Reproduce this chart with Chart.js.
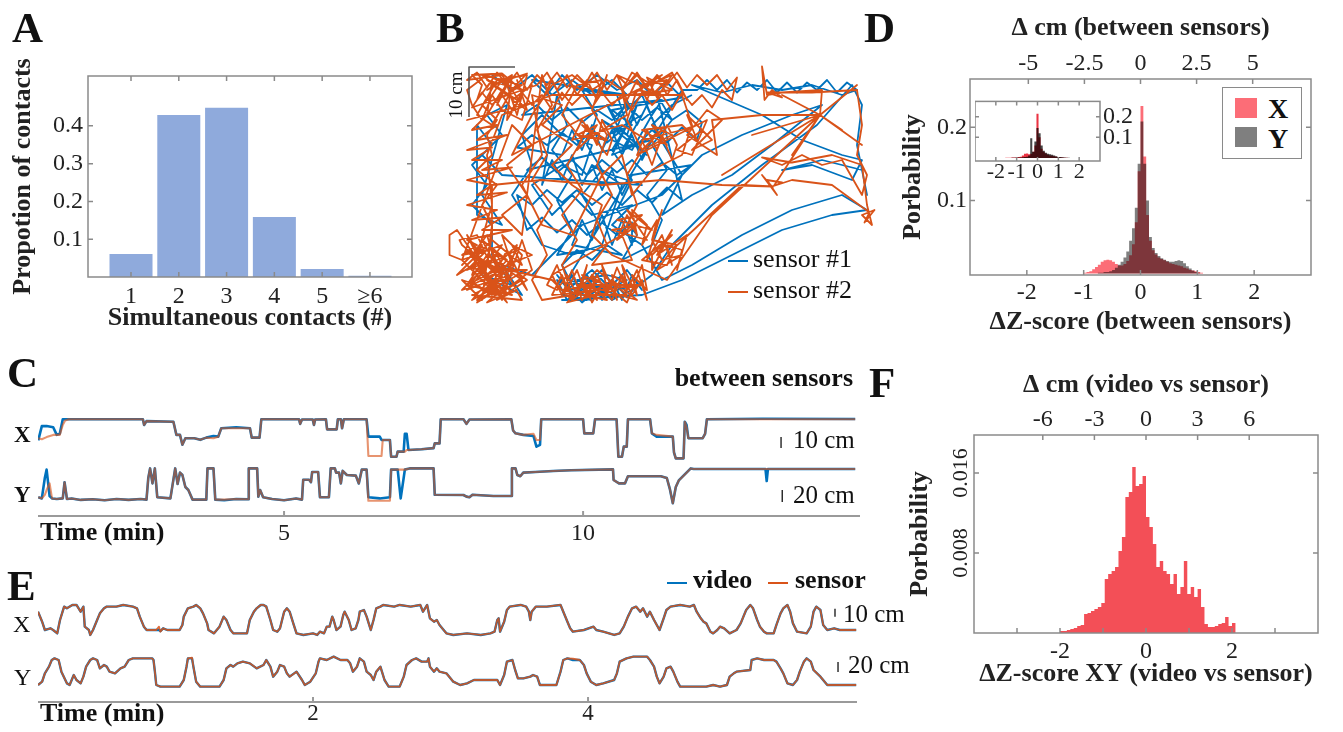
<!DOCTYPE html>
<html>
<head>
<meta charset="utf-8">
<script src="https://cdn.jsdelivr.net/npm/chart.js@4.4.1/dist/chart.umd.min.js"></script>
<style>
  html, body { margin: 0; padding: 0; background: #fff; }
  body { position: relative; width: 1343px; height: 732px; overflow: hidden;
         font-family: 'Liberation Serif', 'Times New Roman', serif; color: #111; }
  canvas { position: absolute; }
  .t { position: absolute; line-height: 1; white-space: nowrap; }
  .b { font-weight: bold; }
  .dash { position: absolute; height: 2px; }
  .box { position: absolute; box-sizing: border-box; }
</style>
</head>
<body>
<canvas id="histA" width="425" height="340" style="left:0;top:0"></canvas>
<canvas id="pathB" width="450" height="265" style="left:440px;top:50px"></canvas>
<canvas id="traceC" width="870" height="160" style="left:0;top:395px"></canvas>
<canvas id="traceE" width="870" height="147" style="left:0;top:585px"></canvas>
<canvas id="histD" width="453" height="340" style="left:890px;top:0"></canvas>
<canvas id="insetD" width="165" height="102" style="left:975px;top:84px"></canvas>
<canvas id="histF" width="453" height="392" style="left:890px;top:340px"></canvas>

<script>
// ---------- data ----------

// A: simultaneous contacts
const contactCounts = [1, 2, 3, 4, 5, 6];
const contactShare = [0.061, 0.429, 0.448, 0.159, 0.021, 0.003];
const shareTicks = [0.1, 0.2, 0.3, 0.4];

// B: trajectories in cm [x, y]
const sensor2Path = [
  [2,8],[6,4],[1,11],[9,6],[4,2],[11,9],[3,5],[8,12],[0,9],[7,2],[12,5],[5,10],[1,4],[10,2],[4,13],[9,9],[2,1],[13,7],[6,7],[0,12],[-0.5,13],[3,14],[8,3],[11,12],[5,6],
  [1,14],[3,11],[0,8],[4,12],[2,6],[5,9],[1,3],[6,5],[3,0.5],[7,3],[4,7],[9,2],[6,11],[10,8],[8,14],[12,10],[11,6],[13,3],[9,11],[7,7],[5,14],[2,10],[8,1],[12,13],[14,7],[10,4],[6,2],[3,4],[0,5],[4,1],
  [6,16],[4,20],[7,24],[3,27],[6,30],[5,34],[7,37],[4,40],[6,42],
  [8,45],[5,43],[10,46],[7,41],[12,44],[4,46],[9,42],[13,46.3],[6,44],[11,41],[5,45],[12,43],[8,46.3],
  [2,46],[4,44],[3,41],[6,45],[5,38],[8,43],[7,40],[10,46],[9,37],[12,42],[11,45],[13,39],[10,41],[14,44],[12,37],[8,39],[6,42],[4,37],[2,40],[1,43],[5,46],[9,44],[11,38],[13,46],[7,45],[3,38],[6,36],[10,43],[12,40],[8,46],
  [1,45],[3,46.5],[5,43.5],[7,46.5],[9,44],[11,46.5],[13,43],[15,46],[17,44],[19,46.5],[21,43.5],[23,46],[25,44],[27,46.5],
  [29,43],[31,46],[33,44],[35,46.5],[37,43.5],[39,46],[41,44],[43,46.5],[45,43.5],[47,46],[49,44],[51,46],[53,43],[55,45.5],
  [54,41],[52,43],[50,39.5],[48,42],[46,40],[44,42.5],[42,39],[40,42],[38,40],[36,42.5],[34,39],[32,42],[30,40],[28,42.5],
  [26,39.5],[24,42],[22,40],[20,42.5],[18,39],[16,42],[14,40],[12,42.5],[10,39],[8,42],[6,40],[4,42.5],[2,39.5],
  [15,44],[17,46.5],[19,43],[21,46],[23,42],[25,45],[27,41],[29,46],[28,43],[26,46.5],[24,43],[22,44],[20,41],[18,45],[16,41],
  [1,37],[5,38],[2,35],[7,36],[3,33],[9,34],[1,31],[6,31.5],[2,29],[8,29],[4,27],[10,27.5],[1,25],[6,24],[3,22],[9,22.5],
  [1,20],[7,19],[2,17],[8,17.5],[4,15],[10,15],[1,13],
  [3,12],[0,10],[5,11],[1,7],[6,9],[2,4],[8,7],[3,1],[9,4],[5,0.5],[11,3],[7,1],[13,5],[9,8],[14,10],[10,12],[12,8],[6,13],
  [-1,6],[4,9],[8,5],[2,2],[12,1],[7,10],[0,3],[10,6],[5,2],[11,11],[3,7],[9,0.5],[-1,15],[-2.5,14],[-2.5,10],[0,9],
  [10,36],[14,32],[9,28],[13,22],[8,18],[12,14],
  [16,46],[18,40],[15,35],[17,30],[14,25],[18,20],[15,15],[17,10],[14,5],[16,1],
  [22,2],[20,8],[23,13],[20,18],[24,23],[21,28],[24,33],[20,38],[23,44],
  [28,45],[26,39],[29,34],[27,28],[30,22],[27,17],[29,12],[26,8],
  [34,9],[32,14],[35,20],[33,26],[36,31],[33,37],[35,43],
  [10,30],[14,38],[18,44],[22,46],[26,43],[29,45],[32,43],
  [35,46],[38,42],[41,45],[36,44],[40,46],[34,42],[42,43],[37,45.5],[39,41.5],[42,46],[35,43],[40,42],
  [31,46],[33,41],[35,45],[37,41],[39,46],[41,42],[43,45],[45,41],[42,46.5],[38,44],[34,46.5],[32,43],
  [33,38],[28,35],[25,33],[27,36],[23,34],[29,33],[24,36],[26,34],
  [23,31],[25,36],[27,32],[28,37],[30,33],[29,30],[26,34],[24,37],[22,33],
  [32,36],[37,33],[40,35],[36,31],[42,34],[38,36],[41,32],[36,35],[44,36],[47,33],[45,38],[48,35],[43,31],[46,30],[49,37],
  [35,30],[37,35],[39,31],[41,36],[43,32],[42,29],[40,34],[38,28],[36,33],[44,35],
  [47,36],[50,33],[46,31],[52,37],[49,39],[45,34],[51,30],
  [50,37],[60,38],[71.6,38],
  [79,44],[71.6,38],[64,42],[71.6,38],[80,32],[71.6,38],[52,26],[71.6,38],[66,30],[71.6,38],[58,34],[71.6,38],[76,35],[71.6,38],
  [72,43],[64,42.5],[61,42],[60,47.7],[60.5,41],[62,43],[64,41.5],[61,42.5],
  [70,42.5],[79,43],[80,36],[79,30],[81,26],[80,22],
  [76,29],[72,28],[68,30],[64,28],[60,29.5],[66,28.5],[74,30],[80,28],
  [81,20],[82,16],[80,18],[82.5,19],[80.5,16.5],[81.5,18.5],
  [74,24],[66,25],[62,23.7],[60,26],[63,22],[61,25],[64,24.5],[62,23.7],[52,24],[40,25],[28,24],[16,25],[6,24],
  [6,14],[5,8],
  [18,5],[22,1],[26,4],[20,3],[29,1],[24,6],[31,3],[21,0.5],[27,7],[33,2],[25,2],[30,5],[35,1],[28,3],[23,4],[36,4],
  [18,2],[20,6],[22,1],[24,5],[26,0.5],[28,4],[30,1],[32,6],[34,2],[36,5],[37,1],[35,7],[33,3],[31,7.5],[29,2],[27,6],
  [25,1.5],[23,7],[21,3],[19,8],[17,4],
  [19,3],[21,6],[23,2],[25,8],[24,4],[27,1],[26,6],[29,3],[28,8],[31,1],[30,6],[33,4],[32,8],[35,2],[34,6],[37,3],[36,8],
  [33,0.5],[30,3],[27,5],[24,1],[22,7],[20,2],[18,6],
  [32,14],[36,18],[31,17],[38,15],[33,19],[37,13],[30,15],[35,16],
  [31,13],[33,18],[35,14],[34,19],[37,16],[36,12],[39,17],[38,13],[40,19],[37,9],[40,14],[42,8],[41,12],[44,11],[43,7],
  [45,14],[39,10],[42,15],[38,7],
  [38,10],[42,14],[36,9],[41,8],[43,12],[38,13],[40,9],[44,10],[39,7],[42,11],
  [56,24],[62.3,23.7],[71.6,38],[50,18],[41,5],
  [30,10],[26,14],[28,20],[22,24],[18,28],[22,32],[16,36],[20,40],[14,42],[16,30],[12,24],[16,16],[22,14],[28,26],[32,30],
  [34,22],[38,27],[44,30],[46,36],[44,42],
  [18,42],[8,38],[5,30],[6,20],[3,10],[7,6]
];
const sensor1Path = [
  [6,46],[10,43],[14,46],[18,42],[22,45],[26,42],[30,45],[33,42],
  [14,45],[17,42],[20,46],[23,43],[27,46],[31,43],[35,45],[38,42],[41,44.5],[44,41.5],
  [30,39],[34,36],[29,34],[36,38],[32,31],[37,33],[30,30],[35,40],[33,34],[28,37],[37,30],[31,36],
  [29,40],[31,37],[33,41],[35,36],[37,40],[39,35],[36,42],[32,38],[30,33],[34,31],[38,38],[40,41],
  [12,38],[15,40],[18,37],[21,39.5],[24,36.5],[27,39],[30,37],[33,40],[36,37],[39,39.5],[42,37],[45,39],[48,36.5],
  [47,33],[44,35.5],[41,32.5],[38,35],[35,32],[32,35],[29,32.5],[26,35],[23,32],[20,34.5],[17,32],[14,34],[11,31.5],
  [20,30],[22,35],[24,31],[26,36],[28,31],[30,35],[32,30],[34,34],[36,29],[38,33],
  [13,27],[16,29.5],[19,26.5],[22,29],[25,26],[28,29],[31,26.5],[34,29],[37,26],[40,28.5],[43,26],[46,28],
  [34,26],[32,22],[30,27],[28,23],[26,28],[24,24],[22,30],[20,25],[18,29],[16,24],
  [19,42],[21,36],[18,31],[22,26],[19,21],[22,15],[19,10],
  [25,11],[27,17],[24,22],[28,27],[25,32],[27,38],[24,43],
  [31,42],[33,36],[30,31],[34,25],[31,19],[35,14],[32,9],
  [38,12],[40,17],[37,22],[41,27],[38,32],[42,37],[39,42],
  [44,21],[41,23.5],[38,20.5],[35,23],[32,20],[29,22.5],[26,20],[23,23],[20,20.5],[17,23],[14,20],[11,22],
  [13,15],[16,17.5],[19,14.5],[22,17],[25,14],[28,16.5],[31,14],[34,16.5],
  [34,12],[32,17],[30,12],[28,18],[26,13],[24,17],[22,12],
  [32,10],[29,12],[26,9],[23,11],[20,8],[22,4],[25,6],[27,2],[30,5],[33,1.5],[35,4],[31,3],[28,7],[24,3],[21,1],[19,5],[26,1],
  [20,2],[22,6],[24,2],[26,6],[28,1],[30,5],[32,1],[34,6],[36,3],[33,7],[29,3],[25,4],[21,5],
  [44,43],[47,43],[49,45],[51,43],[53,45],[55,42.5],[57,44.5],[59,43],[61,45],[63,42.5],[65,44.5],[67,42.5],[69,44.5],
  [71,43],[73,45],[75,42.5],[77,44.5],[79,43],
  [76,42],[70,44],[64,43],[58,44],[52,42.5],[46,44],
  [60,38],[68,33],[76,30],[80,29],[78,25],[70,28],[64,27],[72,29],[80,27],[81,22],[79,32],[80,40],[78,44],
  [71,36],[60,28],[50,20],[42,12],[38,6],
  [34,3],[30,1],[26,5],[22,2],[19,6],[24,0.5],[28,4],[21,3],[26,7],[31,2],[23,5],[29,6],[33,5],[25,1],[20,1],
  [36,2],[44,5],[54,10],[64,15],[74,18],[81,19],[76,22],[66,19],[56,14],[46,8],[40,5],
  [36,12],[30,16],[34,20],[26,18],[22,22],[18,18],[14,24],[20,28],[24,26],[26,32],[20,34],[16,38],[12,34],[14,28],[10,22],
  [16,12],[22,10],[28,12],[32,24],[26,28],[30,26],[36,24],
  [8,26],[4,30],[8,34],[5,38],[9,40],[4,22],[8,16],[3,18],[3,36],[6,32],[2,28],[5,24],[2,20],[6,16],
  [6,10],[10,4],[4,6],[12,2],[8,8],[14,6],
  [24,16],[40,22],[48,30],[56,34],[66,38],[72,40],[62,32],[54,26],[46,22],[40,18],[44,26],[38,36],[42,40],[46,42]
];
const bScaleBar = [[1.4, 37.6], [1.4, 47.6], [10.6, 47.6]];

// C: between sensors, rows [time (min), sensor #1, sensor #2] in cm
const cX = [
  [0.89,16,18],[0.95,29,17],[1.03,29,19],[1.14,28,21],[1.2,21,21],[1.25,22,21],[1.3,35.2,30],[1.34,35.2,34],[1.4,35.2,35.2],
  [2.64,35.2,35.2],[2.66,30,30],[2.7,33.5,33.5],[3.15,33,33],[3.2,21,21],[3.26,21,21],[3.3,12,12],[3.35,17.9,17.9],
  [3.5,18,18],[3.6,16.5,16.5],[3.7,18.5,18.5],[3.82,20,18],[3.9,19.4,19.4],[3.95,27,27],[4.2,28,27],[4.43,27,27],
  [4.46,18.5,18.5],[4.59,18.5,18.5],[4.62,35.2,35.2],[5.25,35.2,35.2],[5.27,31,31],[5.3,35,35],[5.48,35,35],[5.5,30,30],
  [5.52,35,35],[5.7,35.2,35.2],[5.72,26,26],[5.88,26,26],[5.9,35.2,35.2],[5.95,35.2,35.2],[5.97,27,27],[6.0,35.2,35.2],
  [6.38,35.2,35.2],[6.41,19.4,1.8],[6.6,19.4,1.8],[6.63,16.4,1.8],[6.65,16.4,16.4],[6.77,16.4,16.4],[6.79,1.2,1.2],
  [6.88,1.2,1.2],[6.9,5.8,5.8],[7.0,5.8,5.8],[7.02,22,5.8],[7.05,22,7.3],[7.08,7.3,7.3],[7.3,8,8],[7.5,9,9],
  [7.52,13.3,13.3],[7.6,13.3,13.3],[7.62,35.2,35.2],[8.0,35.2,35.2],[8.05,31,31],[8.1,35,35],[8.8,35.2,35.2],
  [8.83,25,25],[8.87,22.4,22.4],[9.0,21,21],[9.17,20,22],[9.22,10.3,16.4],[9.28,12,16.4],[9.3,35.2,35.2],
  [10.0,35.2,35.2],[10.02,22.4,22.4],[10.17,22.4,22.4],[10.2,35.2,35.2],[10.56,35.2,35.2],[10.59,1.2,1.2],
  [10.65,1.2,1.2],[10.68,10.3,10.3],[10.73,10.3,10.3],[10.75,35.2,35.2],[11.12,35.2,35.2],[11.15,22.4,22.4],
  [11.23,19.4,21],[11.5,19.4,19.4],[11.52,5,5],[11.55,-0.3,-0.3],[11.68,-0.3,-0.3],[11.7,33,33],[11.73,30,28],
  [11.76,18,18],[12.0,18,18],[12.04,22,22],[12.07,35.2,35.2],[13.0,35.6,35.2],[14.55,35.4,35.2]
];
const cY = [
  [0.89,8,8],[0.95,6,6],[1.0,40,12],[1.03,54,20],[1.08,10,31],[1.12,6,6],[1.2,5,5],[1.3,6,6],[1.33,33,33],[1.37,5,5],
  [1.45,6,6],[1.6,3.5,3.5],[1.8,4.5,4.5],[2.0,3,3],[2.2,5,5],[2.4,3.5,3.5],[2.6,5,5],[2.7,4,4],[2.73,40,40],[2.76,56,56],
  [2.8,31,31],[2.84,56,56],[2.88,8,8],[3.1,6,6],[3.18,56,56],[3.22,30,30],[3.26,49,49],[3.3,45,45],[3.35,25,25],[3.4,20,20],
  [3.47,4,4],[3.7,4,4],[3.72,56,56],[3.82,56,56],[3.85,4,4],[4.0,3,4],[4.2,5,5],[4.4,4.5,4.5],[4.41,56,56],[4.55,56,56],
  [4.57,9,9],[4.6,20,20],[4.65,8,8],[4.8,5,5],[5.0,3,3],[5.2,6,6],[5.3,4,4],[5.32,37,37],[5.42,37,37],[5.45,33,33],
  [5.47,50,50],[5.57,50,50],[5.6,8,8],[5.75,8,8],[5.78,56,56],[5.85,56,56],[5.87,49,49],[5.92,49,49],[5.95,31,31],
  [5.98,52,52],[6.05,45,45],[6.2,44,44],[6.25,31,31],[6.3,54,54],[6.38,54,54],[6.41,8,2],[6.6,6,2],[6.77,8,2],
  [6.79,54,54],[6.9,54,54],[6.95,6,54],[7.0,40,54],[7.02,54,54],[7.1,56,56],[7.5,56,56],[7.52,12,12],[8.0,11.7,11.7],
  [8.05,9,9],[8.1,8,8],[8.15,12,12],[8.5,10,10],[8.8,10,10],[8.81,56,56],[8.87,56,56],[8.9,45,45],[8.95,43,43],
  [9.0,49,49],[9.2,50,50],[9.5,51.7,51.7],[9.8,53,53],[10.5,54.4,54.4],[10.51,36.7,36.7],[10.6,31,31],[10.7,31,31],
  [10.75,43,43],[11.3,43,43],[11.4,40,40],[11.45,22,22],[11.5,-2,-2],[11.55,25,25],[11.6,36,36],[11.8,56,56],
  [11.85,55,55],[13.05,55,55],[13.07,35,55],[13.09,55,55],[14.55,55,55]
];
const cTimeTicks = [5, 10];
const cBarX = [[13.31, 9], [13.31, 19]];
const cBarY = [[13.33, 0], [13.33, 20]];

// E: video vs sensor, rows [time (min), video, sensor] in cm
const eX = [
  [0.00,30.4,30.4],[0.03,17.9,17.9],[0.05,7.5,7.5],[0.09,9.6,9.6],[0.11,7.5,7.5],[0.14,3.3,3.3],[0.16,20,20],[0.19,36.7,36.7],
  [0.21,34.6,34.6],[0.25,38.8,38.8],[0.28,38.8,38.8],[0.31,30.4,30.4],[0.33,36.7,36.7],[0.34,11.7,11.7],[0.37,7.5,7.5],
  [0.38,1.3,1.3],[0.40,7.5,7.5],[0.43,20,20],[0.45,28.3,28.3],[0.48,34.6,34.6],[0.50,36.7,36.7],[0.57,36.7,36.7],
  [0.62,38.8,38.8],[0.69,36.7,36.7],[0.72,34.6,34.6],[0.74,24.2,24.2],[0.77,11.7,11.7],[0.79,7.5,7.5],[0.86,7.5,7.5],
  [0.88,7.5,11.7],[0.89,6,5.4],[0.91,9.6,9.6],[0.94,7.5,7.5],[1.03,7.5,7.5],[1.05,13.8,13.8],[1.06,24.2,24.2],
  [1.09,34.6,34.6],[1.13,36.7,36.7],[1.15,38.8,38.8],[1.18,34.6,34.6],[1.20,28.3,28.3],[1.23,15.8,15.8],[1.24,7.5,7.5],
  [1.28,3.3,3.3],[1.32,11.7,11.7],[1.35,24.2,24.2],[1.37,20,20],[1.40,7.5,7.5],[1.42,3.3,3.3],[1.52,3.3,3.3],
  [1.53,11.7,11.7],[1.54,20,20],[1.57,30.4,30.4],[1.59,34.6,34.6],[1.62,38.8,38.8],[1.64,38.8,38.8],[1.66,36.7,36.7],
  [1.69,20,20],[1.71,7.5,7.5],[1.74,5.4,5.4],[1.76,9.6,9.6],[1.79,30.4,30.4],[1.81,34.6,34.6],[1.83,30.4,30.4],
  [1.86,13.8,13.8],[1.88,3.3,3.3],[1.93,1.3,1.3],[2.00,3.3,3.3],[2.03,1.3,1.3],[2.05,5.4,5.4],[2.08,3.3,3.3],
  [2.10,11.7,11.7],[2.12,11.7,11.7],[2.14,24.2,24.2],[2.15,20,20],[2.17,7.5,7.5],[2.20,11.7,11.7],[2.22,26.3,26.3],
  [2.23,30.4,30.4],[2.26,20,20],[2.28,7.5,7.5],[2.31,9.6,9.6],[2.33,20,20],[2.34,30.4,30.4],[2.37,32.5,32.5],
  [2.39,24.2,24.2],[2.42,7.5,7.5],[2.44,20,20],[2.46,34.6,34.6],[2.49,36.7,36.7],[2.51,38.8,38.8],[2.59,36.7,36.7],
  [2.63,38.8,38.8],[2.71,36.7,36.7],[2.78,38.8,38.8],[2.80,30.4,30.4],[2.83,38.8,38.8],[2.85,22.1,22.1],[2.88,17.9,17.9],
  [2.90,20,20],[2.92,13.8,13.8],[2.95,7.5,7.5],[2.97,3.3,3.3],[3.02,1.3,1.3],[3.12,3.3,3.3],[3.22,1.3,1.3],[3.29,3.3,3.3],
  [3.32,5.4,5.4],[3.34,20,20],[3.35,22.1,22.1],[3.36,5.4,5.4],[3.39,17.9,17.9],[3.41,32.5,32.5],[3.43,36.7,36.7],
  [3.51,38.8,38.8],[3.55,36.7,36.7],[3.57,30.4,30.4],[3.58,20,20],[3.59,30.4,30.4],[3.62,36.7,36.7],[3.70,36.7,36.7],
  [3.80,38.8,38.8],[3.82,30.4,30.4],[3.85,17.9,17.9],[3.87,9.6,9.6],[3.89,5.4,5.4],[3.97,7.5,7.5],[4.04,11.7,11.7],
  [4.06,7.5,7.5],[4.11,5.4,5.4],[4.19,1.3,1.3],[4.23,3.3,3.3],[4.26,11.7,11.7],[4.29,24.2,24.2],[4.32,34.6,34.6],
  [4.35,36.7,36.7],[4.38,30.4,30.4],[4.40,34.6,34.6],[4.43,24.2,24.2],[4.45,30.4,30.4],[4.48,20,20],[4.50,13.8,13.8],
  [4.52,7.5,7.5],[4.55,22.1,22.1],[4.57,32.5,32.5],[4.60,36.7,36.7],[4.67,38.8,38.8],[4.74,36.7,36.7],[4.77,38.8,38.8],
  [4.79,30.4,30.4],[4.82,22.1,22.1],[4.84,17.9,17.9],[4.86,15.8,15.8],[4.89,5.4,5.4],[4.91,3.3,3.3],[4.94,7.5,7.5],
  [4.96,11.7,11.7],[4.99,9.6,9.6],[5.03,3.3,3.3],[5.08,7.5,7.5],[5.11,15.8,15.8],[5.13,24.2,24.2],[5.15,32.5,32.5],
  [5.18,38.8,38.8],[5.20,34.6,34.6],[5.23,20,20],[5.25,11.7,11.7],[5.28,5.4,5.4],[5.30,3.3,3.3],[5.35,3.3,3.3],
  [5.37,13.8,13.8],[5.40,28.3,28.3],[5.42,34.6,34.6],[5.45,38.8,38.8],[5.47,30.4,30.4],[5.49,15.8,15.8],[5.52,5.4,5.4],
  [5.59,3.3,3.3],[5.62,11.7,11.7],[5.64,30.4,30.4],[5.66,36.7,36.7],[5.69,32.5,32.5],[5.71,13.8,13.8],[5.74,7.5,7.5],
  [5.79,9.6,9.6],[5.83,7.5,7.5],[5.95,7.5,7.5]
];
const eY = [
  [0.00,10,10],[0.03,16.7,16.7],[0.05,33.3,33.3],[0.08,46.7,46.7],[0.10,60,60],[0.12,63.3,63.3],[0.15,60,60],[0.17,36.7,36.7],
  [0.21,13.3,13.3],[0.23,10,10],[0.26,30,30],[0.28,20,20],[0.31,13.3,13.3],[0.33,26.7,26.7],[0.35,46.7,46.7],[0.38,60,60],
  [0.40,63.3,63.3],[0.43,60,60],[0.45,43.3,43.3],[0.48,50,50],[0.50,46.7,46.7],[0.52,36.7,36.7],[0.56,33.3,33.3],
  [0.60,43.3,43.3],[0.63,46.7,46.7],[0.66,60,60],[0.69,63.3,63.3],[0.83,63.3,63.3],[0.84,60,60],[0.85,36.7,36.7],
  [0.86,10,10],[0.89,6.7,6.7],[1.03,6.7,6.7],[1.06,20,20],[1.08,46.7,46.7],[1.09,63.3,63.3],[1.12,63.3,64.5],
  [1.13,46.7,46.7],[1.15,16.7,16.7],[1.18,6.7,6.7],[1.32,6.7,6.7],[1.35,20,20],[1.37,43.3,43.3],[1.40,50,50],
  [1.42,46.7,46.7],[1.45,53.3,53.3],[1.49,56.7,56.7],[1.54,53.3,53.3],[1.59,43.3,43.3],[1.64,50,50],[1.66,60,60],
  [1.69,46.7,46.7],[1.71,26.7,26.7],[1.74,36.7,36.7],[1.76,50,50],[1.79,46.7,46.7],[1.81,33.3,33.3],[1.83,26.7,26.7],
  [1.88,36.7,36.7],[1.92,20,20],[1.94,10,10],[1.98,16.7,16.7],[2.02,33.3,33.3],[2.04,56.7,56.7],[2.05,63.3,63.3],
  [2.10,60,60],[2.15,66.7,66.7],[2.20,60,60],[2.25,60,60],[2.27,53.3,53.3],[2.29,36.7,36.7],[2.32,46.7,46.7],
  [2.34,63.3,63.3],[2.37,56.7,56.7],[2.39,36.7,36.7],[2.42,30,30],[2.44,20,20],[2.46,36.7,36.7],[2.49,46.7,46.7],
  [2.52,20,20],[2.55,6.7,6.7],[2.63,6.7,6.7],[2.66,26.7,26.7],[2.68,50,50],[2.72,60,60],[2.75,63.3,63.3],
  [2.79,56.7,56.7],[2.83,56.7,56.7],[2.84,63.3,63.3],[2.85,46.7,46.7],[2.88,36.7,36.7],[2.90,43.3,43.3],[2.92,36.7,36.7],
  [2.97,33.3,33.3],[3.02,16.7,16.7],[3.07,10,10],[3.12,13.3,13.3],[3.17,20,20],[3.34,20,20],[3.36,10,10],[3.39,30,30],
  [3.41,56.7,56.7],[3.45,60,60],[3.47,40,40],[3.49,23.3,23.3],[3.53,23.3,23.3],[3.58,26.7,26.7],[3.60,30,30],
  [3.63,26.7,26.7],[3.65,10,10],[3.77,10,10],[3.80,36.7,36.7],[3.82,60,60],[3.85,63.3,63.3],[3.89,60,62.5],[3.94,60,60],
  [3.97,50,50],[3.99,33.3,33.3],[4.02,16.7,16.7],[4.06,10,10],[4.11,13.3,13.3],[4.19,20,20],[4.21,33.3,33.3],
  [4.23,56.7,56.7],[4.28,63.3,63.3],[4.33,66.7,66.7],[4.43,66.7,66.7],[4.45,60,60],[4.48,46.7,46.7],[4.50,26.7,26.7],
  [4.52,13.3,13.3],[4.55,26.7,26.7],[4.57,43.3,43.3],[4.60,46.7,46.7],[4.62,36.7,36.7],[4.65,16.7,16.7],[4.67,6.7,6.7],
  [4.86,6.7,6.7],[4.91,10,10],[4.96,6.7,6.7],[5.01,10,10],[5.03,26.7,26.7],[5.06,33.3,33.3],[5.08,36.7,36.7],
  [5.18,40,40],[5.19,60,60],[5.23,63.3,63.3],[5.28,60,60],[5.35,60,60],[5.37,56.7,56.7],[5.40,43.3,43.3],
  [5.42,33.3,33.3],[5.45,13.3,13.3],[5.49,10,10],[5.52,20,20],[5.54,36.7,36.7],[5.57,56.7,56.7],[5.59,63.3,63.3],
  [5.62,56.7,56.7],[5.64,40,40],[5.69,26.7,26.7],[5.74,10,10],[5.95,10,10]
];
const eTimeTicks = [2, 4];
const eBarX = [[5.796, 24], [5.796, 34]];
const eBarY = [[5.818, 36], [5.818, 56]];

// D: between-sensor difference histograms (bin centres, z-score)
const dBins = [-1.025,-0.975,-0.925,-0.875,-0.825,-0.775,-0.725,-0.675,-0.625,-0.575,-0.525,-0.475,-0.425,-0.375,-0.325,
  -0.275,-0.225,-0.175,-0.125,-0.075,-0.025,0.025,0.075,0.125,0.175,0.225,0.275,0.325,0.375,0.425,0.475,0.525,0.575,
  0.625,0.675,0.725,0.775,0.825,0.875,0.925,0.975,1.025,1.075,1.125];
const dProbX = [0,0.001,0.002,0.003,0.006,0.009,0.012,0.016,0.018,0.019,0.018,0.016,0.013,0.011,0.011,0.013,0.017,0.025,
  0.04,0.07,0.14,0.229,0.16,0.08,0.045,0.032,0.026,0.022,0.02,0.018,0.016,0.014,0.013,0.012,0.011,0.01,0.008,0.007,
  0.005,0.004,0.003,0.002,0.001,0];
const dProbY = [0,0,0,0,0,0,0.001,0.001,0.002,0.002,0.003,0.005,0.008,0.012,0.016,0.022,0.03,0.045,0.062,0.09,0.15,
  0.208,0.15,0.1,0.05,0.035,0.028,0.024,0.021,0.019,0.017,0.016,0.016,0.017,0.018,0.017,0.014,0.01,0.007,0.004,0.002,
  0.001,0,0];
const dZTicks = [-2, -1, 0, 1, 2];
const dCmTicks = [-5, -2.5, 0, 2.5, 5];
const dProbTicks = [0.1, 0.2];

// D inset
const insetBins = [-1.6,-1.5,-1.4,-1.3,-1.2,-1.1,-1.0,-0.9,-0.8,-0.7,-0.6,-0.5,-0.4,-0.3,-0.2,-0.1,0,0.1,0.2,0.3,0.4,
  0.5,0.6,0.7,0.8,0.9,1.0,1.1,1.2,1.3,1.4,1.5,1.6];
const insetProbX = [0,0.001,0.001,0.001,0.002,0.002,0.003,0.004,0.006,0.012,0.02,0.022,0.018,0.02,0.03,0.06,0.215,0.1,
  0.045,0.03,0.022,0.016,0.012,0.01,0.008,0.006,0.004,0.003,0.002,0.001,0.001,0,0];
const insetProbY = [0,0,0,0,0.001,0.001,0.001,0.002,0.002,0.003,0.004,0.006,0.012,0.096,0.03,0.08,0.146,0.12,0.06,
  0.035,0.025,0.02,0.018,0.016,0.012,0.008,0.005,0.004,0.003,0.002,0.001,0.001,0];

// F: video vs sensor histogram
const fBins = [-2.04,-1.96,-1.88,-1.80,-1.72,-1.64,-1.56,-1.48,-1.40,-1.32,-1.24,-1.16,-1.08,-1.00,-0.92,-0.84,-0.76,
  -0.68,-0.60,-0.52,-0.44,-0.36,-0.28,-0.20,-0.12,-0.04,0.04,0.12,0.20,0.28,0.36,0.44,0.52,0.60,0.68,0.76,0.84,0.92,
  1.00,1.08,1.16,1.24,1.32,1.40,1.48,1.56,1.64,1.72,1.80,1.88,1.96,2.04,2.12];
const fProb = [0,0.0002,0.0002,0.0003,0.0004,0.0005,0.0007,0.0008,0.0019,0.002,0.0022,0.0024,0.0026,0.003,0.0054,
  0.0059,0.0062,0.0066,0.0082,0.0096,0.0136,0.0141,0.0166,0.0147,0.0149,0.0157,0.0116,0.0106,0.0089,0.0066,0.0072,
  0.0062,0.0059,0.0049,0.0059,0.0039,0.0046,0.0072,0.0039,0.0046,0.0036,0.0044,0.0026,0.0009,0.0006,0.0006,0.0007,
  0.0009,0.001,0.0016,0.0007,0.001,0];
const fZTicks = [-2, 0, 2];
const fZMarks = [-3, -2, -1, 0, 1, 2, 3];
const fCmTicks = [-6, -3, 0, 3, 6];
const fProbTicks = [0.008, 0.016];

// ---------- styling ----------
const BLUE = '#0072BD';
const ORANGE = '#D95319';
const BAR_BLUE = '#8FAADC';
const HIST_X = 'rgba(250,20,35,0.62)';
const HIST_Y = 'rgba(0,0,0,0.5)';
const AXIS_GREY = '#8a8a8a';

Chart.defaults.font.family = "'Liberation Serif', 'Times New Roman', serif";
Chart.defaults.color = '#222';
Chart.defaults.animation = false;
Chart.defaults.events = [];
Chart.defaults.plugins.legend.display = false;
Chart.defaults.plugins.tooltip.enabled = false;

const fixed = vals => s => { s.ticks = vals.map(v => ({ value: v })); };
const fitW = w => s => { s.width = w; };
const fitH = h => s => { s.height = h; };
const noGrid = { display: false, drawTicks: false };
const noBorder = { display: false };
const titleFont = { size: 26, weight: 'bold' };
const xy = rows => rows.map(r => ({ x: r[0], y: r[1] }));
const col = (rows, i) => rows.map(r => ({ x: r[0], y: r[i] }));
const hist = (bins, vals) => bins.map((b, i) => ({ x: b, y: vals[i] }));

// MATLAB-like frame: grey box, inward tick marks, optional rotated y labels
const frame = {
  id: 'frame',
  beforeDatasetsDraw(chart, args, o) {
    if (!o.bg) return;
    const a = chart.chartArea, ctx = chart.ctx;
    ctx.save();
    ctx.fillStyle = o.bg;
    ctx.fillRect(a.left, a.top, a.right - a.left, a.bottom - a.top);
    ctx.restore();
  },
  afterDatasetsDraw(chart, args, o) {
    const { ctx, chartArea: a, scales } = chart;
    const len = o.len || 5;
    ctx.save();
    ctx.strokeStyle = o.color || AXIS_GREY;
    ctx.lineWidth = o.width || 1.5;
    if (o.box) ctx.strokeRect(a.left, a.top, a.right - a.left, a.bottom - a.top);
    if (o.baseline) {
      ctx.beginPath(); ctx.moveTo(a.left, a.bottom); ctx.lineTo(a.right, a.bottom); ctx.stroke();
    }
    (o.marks || []).forEach(m => {
      const s = scales[m.axis];
      m.at.forEach(v => {
        const p = s.getPixelForValue(v);
        ctx.beginPath();
        m.sides.forEach(side => {
          if (side === 'bottom') { ctx.moveTo(p, a.bottom); ctx.lineTo(p, a.bottom - len); }
          if (side === 'top') { ctx.moveTo(p, a.top); ctx.lineTo(p, a.top + len); }
          if (side === 'left') { ctx.moveTo(a.left, p); ctx.lineTo(a.left + len, p); }
          if (side === 'right') { ctx.moveTo(a.right, p); ctx.lineTo(a.right - len, p); }
        });
        ctx.stroke();
      });
    });
    if (o.rotY) {
      const s = scales[o.rotY.axis];
      ctx.fillStyle = '#222';
      ctx.font = o.rotY.size + "px 'Liberation Serif'";
      ctx.textAlign = 'center';
      ctx.textBaseline = 'middle';
      o.rotY.at.forEach((v, i) => {
        ctx.save();
        ctx.translate(a.left - o.rotY.dx, s.getPixelForValue(v));
        ctx.rotate(-Math.PI / 2);
        ctx.fillText(o.rotY.labels[i], 0, 0);
        ctx.restore();
      });
    }
    ctx.restore();
  }
};

// ---------- A: bar chart ----------
new Chart(document.getElementById('histA'), {
  type: 'bar',
  data: { datasets: [{
    data: xy(contactCounts.map((c, i) => [c, contactShare[i]])),
    backgroundColor: BAR_BLUE, barPercentage: 0.9, categoryPercentage: 1
  }] },
  options: {
    responsive: false,
    layout: { padding: { top: 76, right: 13, left: 0, bottom: 0 } },
    scales: {
      x: { type: 'linear', min: 0.1, max: 6.88, offset: false, grid: noGrid, border: noBorder,
           afterBuildTicks: fixed(contactCounts), afterFit: fitH(63),
           ticks: { font: { size: 24 }, padding: 5, callback: v => (v === 6 ? '≥6' : String(v)) },
           title: { display: true, text: 'Simultaneous contacts (#)', font: titleFont, padding: { top: 0, bottom: 6 } } },
      y: { min: 0, max: 0.532, grid: noGrid, border: noBorder,
           afterBuildTicks: fixed(shareTicks), afterFit: fitW(88),
           ticks: { font: { size: 24 }, padding: 5, callback: v => v.toFixed(1) },
           title: { display: true, text: 'Propotion of contacts', font: titleFont, padding: { top: 8, bottom: 0 } } }
    },
    plugins: { frame: { box: true, marks: [
      { axis: 'x', at: contactCounts, sides: ['top', 'bottom'] },
      { axis: 'y', at: shareTicks, sides: ['left', 'right'] }
    ] } }
  },
  plugins: [frame]
});

// ---------- B: trajectories ----------
const pathLine = { showLine: true, pointRadius: 0, borderWidth: 1.8, borderJoinStyle: 'round', clip: false };
new Chart(document.getElementById('pathB'), {
  type: 'scatter',
  data: { datasets: [
    { ...pathLine, data: xy(bScaleBar), borderColor: '#555', borderWidth: 1.6, order: -1 },
    { ...pathLine, label: 'sensor #2', data: xy(sensor2Path), borderColor: ORANGE, order: 0 },
    { ...pathLine, label: 'sensor #1', data: xy(sensor1Path), borderColor: BLUE, order: 1 }
  ] },
  options: {
    responsive: false,
    layout: { padding: { left: 22, top: 15, right: 8, bottom: 10 } },
    scales: { x: { display: false, min: 0, max: 84 }, y: { display: false, min: 0, max: 48 } }
  }
});

// ---------- C / E: time traces ----------
const trace = { showLine: true, pointRadius: 0, borderJoinStyle: 'round', tension: 0 };
function traceSets(rows, axis, barRows, topColor, wBlue, wTop) {
  return [
    { ...trace, data: col(rows, 1), yAxisID: axis, borderColor: BLUE, borderWidth: wBlue, order: 3 },
    { ...trace, data: col(rows, 2), yAxisID: axis, borderColor: topColor, borderWidth: wTop, order: 2 },
    { ...trace, data: xy(barRows), yAxisID: axis, borderColor: '#222', borderWidth: 1.4, order: 1 }
  ];
}
const C_TOP = 'rgba(217,83,25,0.62)';
const E_TOP = 'rgba(217,83,25,0.85)';

new Chart(document.getElementById('traceC'), {
  type: 'scatter',
  data: { datasets: [...traceSets(cX, 'yx', cBarX, C_TOP, 2.6, 2.1), ...traceSets(cY, 'yy', cBarY, C_TOP, 2.6, 2.1)] },
  options: {
    responsive: false,
    layout: { padding: { left: 38, right: 10, top: 5, bottom: 0 } },
    scales: {
      x: { type: 'linear', min: 0.886, max: 14.63, grid: noGrid, border: noBorder,
           afterBuildTicks: fixed(cTimeTicks), afterFit: fitH(39),
           ticks: { font: { size: 24 }, padding: 3, callback: v => String(v) } },
      yx: { display: false, min: -52.7, max: 52.7 },
      yy: { display: false, min: -23.3, max: 170 }
    },
    plugins: { frame: { baseline: true, width: 2, color: '#9a9a9a', marks: [
      { axis: 'x', at: cTimeTicks, sides: ['bottom'] }
    ] } }
  },
  plugins: [frame]
});

new Chart(document.getElementById('traceE'), {
  type: 'scatter',
  data: { datasets: [...traceSets(eX, 'yx', eBarX, E_TOP, 2.4, 1.8), ...traceSets(eY, 'yy', eBarY, E_TOP, 2.4, 1.8)] },
  options: {
    responsive: false,
    layout: { padding: { left: 38, right: 13, top: 5, bottom: 0 } },
    scales: {
      x: { type: 'linear', min: 0, max: 5.956, grid: noGrid, border: noBorder,
           afterBuildTicks: fixed(eTimeTicks), afterFit: fitH(30),
           ticks: { font: { size: 23, lineHeight: 1 }, padding: 0, callback: v => String(v) } },
      yx: { display: false, min: -82.5, max: 57.5 },
      yy: { display: false, min: -24, max: 200 }
    },
    plugins: { frame: { baseline: true, width: 2, color: '#9a9a9a', marks: [
      { axis: 'x', at: eTimeTicks, sides: ['bottom'] }
    ] } }
  },
  plugins: [frame]
});

// ---------- D: histogram with inset ----------
const histLine = { pointRadius: 0, borderWidth: 0, stepped: 'middle', fill: 'origin' };
new Chart(document.getElementById('histD'), {
  type: 'line',
  data: { datasets: [
    { ...histLine, label: 'X', data: hist(dBins, dProbX), backgroundColor: HIST_X, order: 1 },
    { ...histLine, label: 'Y', data: hist(dBins, dProbY), backgroundColor: HIST_Y, order: 0 }
  ] },
  options: {
    responsive: false,
    layout: { padding: { left: 0, right: 32, top: 0, bottom: 0 } },
    scales: {
      x: { type: 'linear', position: 'bottom', min: -3, max: 3, grid: noGrid, border: noBorder,
           afterBuildTicks: fixed(dZTicks), afterFit: fitH(65),
           ticks: { font: { size: 24 }, padding: 3, callback: v => String(v) },
           title: { display: true, text: 'ΔZ-score (between sensors)', font: titleFont, padding: { top: 0, bottom: 2 } } },
      x2: { type: 'linear', position: 'top', display: true, min: -7.6, max: 7.6, grid: noGrid, border: noBorder,
            afterBuildTicks: fixed(dCmTicks), afterFit: fitH(79),
            ticks: { font: { size: 24 }, padding: 1, callback: v => String(v) },
            title: { display: true, text: 'Δ cm (between sensors)', font: titleFont, padding: { top: 13, bottom: 0 } } },
      y: { min: -0.002, max: 0.266, grid: noGrid, border: noBorder,
           afterBuildTicks: fixed(dProbTicks), afterFit: fitW(80),
           ticks: { font: { size: 24 }, padding: 3, callback: v => v.toFixed(1) },
           title: { display: true, text: 'Porbability', font: titleFont, padding: { top: 8, bottom: 0 } } }
    },
    plugins: { frame: { box: true, marks: [
      { axis: 'x', at: dZTicks, sides: ['bottom'] },
      { axis: 'x2', at: dCmTicks, sides: ['top'] },
      { axis: 'y', at: dProbTicks, sides: ['left', 'right'] }
    ] } }
  },
  plugins: [frame]
});

new Chart(document.getElementById('insetD'), {
  type: 'line',
  data: { datasets: [
    { ...histLine, data: hist(insetBins, insetProbX), backgroundColor: 'rgba(230,0,20,0.8)', order: 1 },
    { ...histLine, data: hist(insetBins, insetProbY), backgroundColor: 'rgba(0,0,0,0.72)', order: 0 }
  ] },
  options: {
    responsive: false,
    layout: { padding: 0 },
    scales: {
      x: { type: 'linear', min: -3, max: 3, grid: noGrid, border: noBorder,
           afterBuildTicks: fixed(dZTicks), afterFit: fitH(25),
           ticks: { font: { size: 22, lineHeight: 1 }, padding: 0, callback: v => String(v) } },
      y: { position: 'right', min: -0.015, max: 0.275, grid: noGrid, border: noBorder,
           afterBuildTicks: fixed(dProbTicks), afterFit: fitW(40),
           ticks: { font: { size: 24 }, padding: 3, callback: v => v.toFixed(1) } }
    },
    plugins: { frame: { box: true, bg: '#fff', len: 4, marks: [
      { axis: 'x', at: dZTicks, sides: ['bottom', 'top'] },
      { axis: 'y', at: dProbTicks, sides: ['left', 'right'] }
    ] } }
  },
  plugins: [frame]
});

// ---------- F: histogram ----------
new Chart(document.getElementById('histF'), {
  type: 'line',
  data: { datasets: [
    { ...histLine, data: hist(fBins, fProb), backgroundColor: 'rgba(240,30,40,0.78)' }
  ] },
  options: {
    responsive: false,
    layout: { padding: { left: 0, right: 25, top: 0, bottom: 0 } },
    scales: {
      x: { type: 'linear', position: 'bottom', min: -4, max: 4, grid: noGrid, border: noBorder,
           afterBuildTicks: fixed(fZTicks), afterFit: fitH(99),
           ticks: { font: { size: 24 }, padding: 4, callback: v => String(v) },
           title: { display: true, text: 'ΔZ-score XY (video vs sensor)', font: titleFont, padding: { top: 0, bottom: 42 } } },
      x2: { type: 'linear', position: 'top', display: true, min: -10, max: 10, grid: noGrid, border: noBorder,
            afterBuildTicks: fixed(fCmTicks), afterFit: fitH(95),
            ticks: { font: { size: 24 }, padding: 1, callback: v => String(v) },
            title: { display: true, text: 'Δ cm (video vs sensor)', font: titleFont, padding: { top: 30, bottom: 0 } } },
      y: { min: 0, max: 0.0198, grid: noGrid, border: noBorder,
           afterBuildTicks: fixed(fProbTicks), afterFit: fitW(84),
           ticks: { display: false },
           title: { display: true, text: 'Porbability', font: titleFont, padding: { top: 15, bottom: 0 } } }
    },
    plugins: { frame: { box: true,
      marks: [
        { axis: 'x', at: fZMarks, sides: ['bottom'] },
        { axis: 'x2', at: fCmTicks, sides: ['top'] },
        { axis: 'y', at: fProbTicks, sides: ['left', 'right'] }
      ],
      rotY: { axis: 'y', at: fProbTicks, labels: ['0.008', '0.016'], dx: 13, size: 22 }
    } }
  },
  plugins: [frame]
});

// ---------- text overlays ----------
function label(text, x, base, size, opts = {}) {
  const el = document.createElement('div');
  el.className = 't' + (opts.bold ? ' b' : '');
  el.textContent = text;
  el.style.fontSize = size + 'px';
  el.style.left = x + 'px';
  el.style.top = (base - 0.8375 * size) + 'px';
  if (opts.align === 'right') el.style.transform = 'translateX(-100%)';
  document.body.appendChild(el);
  return el;
}
function dash(x, y, w, color) {
  const el = document.createElement('div');
  el.className = 'dash';
  el.style.left = x + 'px';
  el.style.top = (y - 1) + 'px';
  el.style.width = w + 'px';
  el.style.background = color;
  document.body.appendChild(el);
}
function swatch(x, y, w, h, color, border) {
  const el = document.createElement('div');
  el.className = 'box';
  Object.assign(el.style, { left: x + 'px', top: y + 'px', width: w + 'px', height: h + 'px', background: color });
  if (border) el.style.border = border;
  document.body.appendChild(el);
}

// panel letters
[['A', 12, 42], ['B', 436, 42], ['D', 864, 42], ['C', 7, 387], ['E', 7, 600], ['F', 869, 397]]
  .forEach(([t, x, y]) => label(t, x, y, 43, { bold: true }));

// B annotations
const scaleTxt = label('10 cm', 455, 95, 19);
scaleTxt.style.top = '95px';
scaleTxt.style.transform = 'translate(-50%, -50%) rotate(-90deg)';
dash(728, 261, 20, BLUE);
label('sensor #1', 753, 268, 26);
dash(728, 292, 20, ORANGE);
label('sensor #2', 753, 299, 26);

// C annotations
label('between sensors', 853, 387, 26, { bold: true, align: 'right' });
label('X', 14, 442, 23, { bold: true });
label('Y', 14, 502, 23, { bold: true });
label('10 cm', 793, 448, 25);
label('20 cm', 793, 503, 25);
label('Time (min)', 40, 541, 26, { bold: true });

// E annotations
dash(667, 583, 20, BLUE);
label('video', 693, 589, 26, { bold: true });
dash(768, 583, 20, ORANGE);
label('sensor', 795, 589, 26, { bold: true });
label('X', 13, 632, 24);
label('Y', 14, 685, 24);
label('10 cm', 843, 622, 25);
label('20 cm', 848, 673, 25);
label('Time (min)', 40, 722, 26, { bold: true });

// D legend
swatch(1222, 87, 80, 72, '#fff', '1.5px solid ' + AXIS_GREY);
swatch(1235, 98, 22, 20, HIST_X);
swatch(1235, 127, 22, 20, HIST_Y);
label('X', 1268, 118, 28, { bold: true });
label('Y', 1268, 148, 28, { bold: true });
</script>
</body>
</html>
